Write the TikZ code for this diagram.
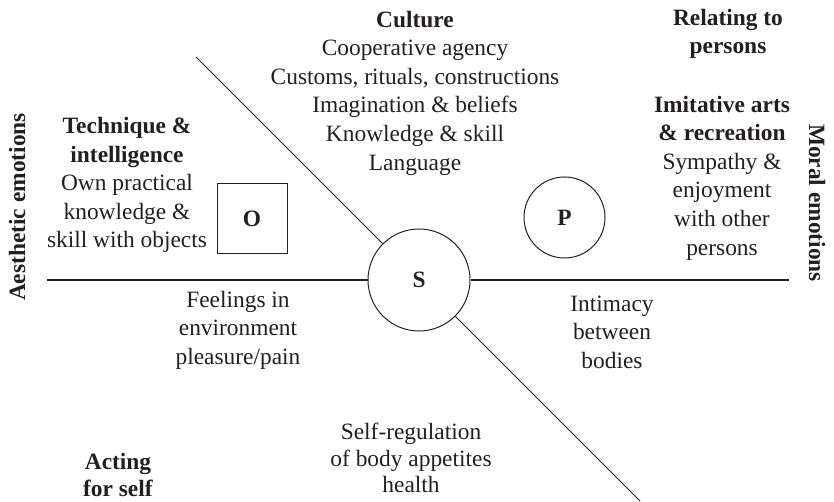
\documentclass[tikz,border=0pt]{standalone}
\usepackage{fontspec}
\setmainfont{Liberation Serif}
\definecolor{ink}{HTML}{231F20}
\begin{document}
\begin{tikzpicture}[x=1pt,y=-1pt,
  txt/.style={text=ink,align=center,inner sep=0pt,font=\fontsize{23.4}{28.6}\selectfont},
  tight/.style={txt,font=\fontsize{23.4}{26.2}\selectfont},
  side/.style={text=ink,inner sep=0pt,font=\fontsize{23.4}{28}\selectfont\bfseries},
  hub/.style={draw=ink,line width=1pt,circle,inner sep=0pt,text=ink,font=\fontsize{23.4}{28}\selectfont\bfseries},
  box/.style={draw=ink,line width=1pt,rectangle,inner sep=0pt,text=ink,font=\fontsize{23.4}{28}\selectfont\bfseries},
  axis/.style={draw=ink,line width=1pt}]
\useasboundingbox (0,0) rectangle (834,502);

% self at the centre, objects and persons around it
\node[hub,minimum size=102pt] (S) at (419,280) {S};
\node[hub,minimum size=81pt] (P) at (564.5,217.5) {P};
\node[box,minimum size=70pt] (O) at (252,218.5) {O};

% axes through the self
\coordinate (hl) at (47,280);
\coordinate (hr) at (789,280);
\coordinate (dtop) at (196,57);
\coordinate (dbot) at (640,501);
\draw[axis] (hl) -- (S.west);
\draw[axis] (S.east) -- (hr);
\draw[axis] (dtop) -- (S.135);
\draw[axis] (S.-45) -- (dbot);

% text blocks
\node[txt] (culture) at (415,93) {\textbf{Culture}\\Cooperative agency\\Customs, rituals, constructions\\Imagination \& beliefs\\Knowledge \& skill\\Language};
\node[txt] (relating) at (728,34) {\textbf{Relating to}\\\textbf{persons}};
\node[txt] (imitative) at (722,178) {\textbf{Imitative arts}\\\textbf{\& recreation}\\Sympathy \&\\enjoyment\\with other\\persons};
\node[txt] (technique) at (127,185) {\textbf{Technique \&}\\\textbf{intelligence}\\Own practical\\knowledge \&\\skill with objects};
\node[txt] (feelings) at (238,330) {Feelings in\\environment\\pleasure/pain};
\node[txt] (intimacy) at (612,332) {Intimacy\\between\\bodies};
\node[tight] (selfreg) at (411,458) {Self-regulation\\of body appetites\\health};
\node[tight] (acting) at (118,475) {\textbf{Acting}\\\textbf{for self}};

% emotion labels along the sides
\node[side,rotate=90] (aesthetic) at (17,207) {Aesthetic emotions};
\node[side,rotate=-90] (moral) at (817,203) {Moral emotions};
\end{tikzpicture}
\end{document}
